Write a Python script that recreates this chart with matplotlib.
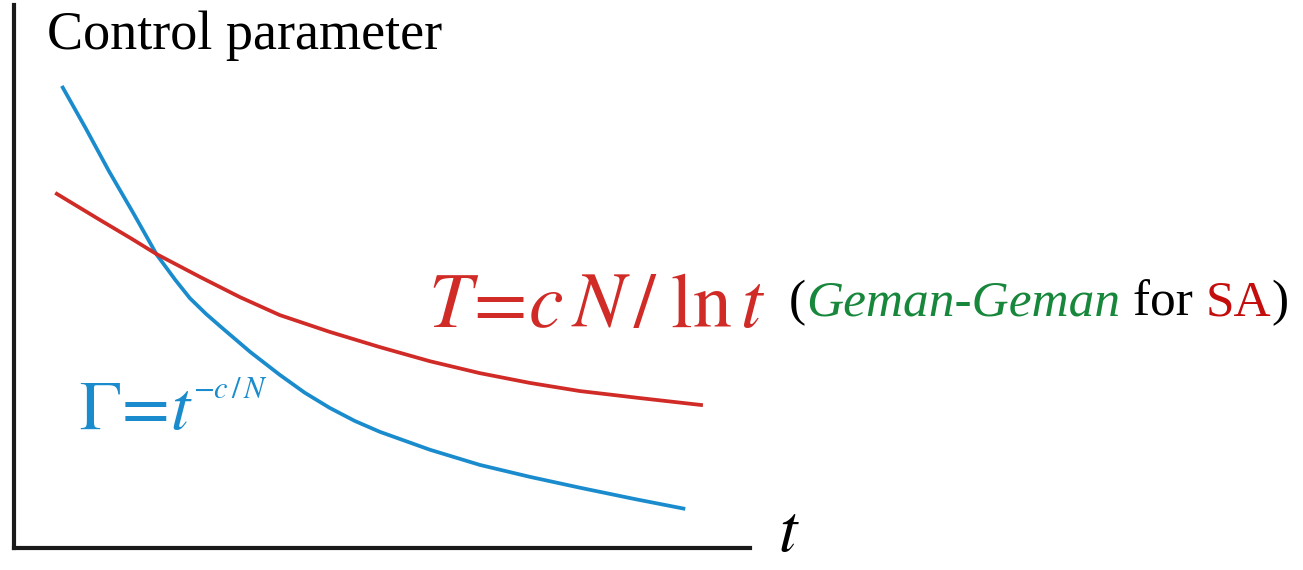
import matplotlib.pyplot as plt
import numpy as np

# curve samples (t, value) in axis units
blue_t = [0.65, 0.97, 1.29, 1.62, 1.94, 2.19, 2.39, 2.61, 2.83, 3.21, 3.61, 3.95, 4.29,
          4.63, 4.97, 5.65, 6.33, 7.01, 7.69, 8.44, 9.12]
blue_v = [8.51, 7.74, 6.94, 6.17, 5.40, 4.94, 4.60, 4.31, 4.05, 3.61, 3.19, 2.86, 2.58,
          2.34, 2.14, 1.81, 1.53, 1.31, 1.11, 0.90, 0.72]
red_t = [0.56, 1.17, 1.58, 1.94, 2.53, 3.07, 3.61, 4.29, 4.97, 5.65, 6.33, 7.01, 7.69, 8.51, 9.36]
red_v = [6.54, 6.04, 5.71, 5.41, 4.99, 4.62, 4.29, 3.98, 3.70, 3.44, 3.22, 3.04, 2.89, 2.76, 2.63]

blue = '#1a8ccd'
red = '#d02b27'

fig = plt.figure(figsize=(13.03, 5.70), dpi=100)
ax = fig.add_axes([14/1303, 22/570, 736/1303, 543/570])
ax.plot(blue_t, blue_v, color=blue, lw=2.7, solid_capstyle='butt', solid_joinstyle='round')
ax.plot(red_t, red_v, color=red, lw=2.7, solid_capstyle='butt', solid_joinstyle='round')
ax.set_xlim(0, 10)
ax.set_ylim(0, 10)
for s in ['top', 'right']:
    ax.spines[s].set_visible(False)
for s in ['left', 'bottom']:
    ax.spines[s].set_linewidth(3)
    ax.spines[s].set_color('#1a1a1a')
ax.set_xticks([])
ax.set_yticks([])

plt.rcParams['mathtext.fontset'] = 'stix'

fig.text(47/1303, 1 - 36/570, 'Control parameter', family='Liberation Serif',
         fontsize=39, va='center', ha='left')
fig.text(778/1303, 1 - 532/570, r'$t$', fontsize=48, va='center', ha='left')

g = fig.text(79/1303, 1 - 410/570, r'$\Gamma\!=\!t$', fontsize=50,
             color=blue, va='center', ha='left')
ax.annotate(r'$-c\,/\,N$', xy=(1, 1), xycoords=g, xytext=(0, 1),
            textcoords='offset points', va='top', ha='left', fontsize=22, color=blue)

fig.text(428/1303, 1 - 305/570, r'$T\!=\!c\,N\,/\;\mathrm{ln}\,t$', fontsize=56,
         color=red, va='center', ha='left')

p = fig.text(789/1303, 1 - 303/570, '(', family='Liberation Serif', fontsize=37,
             va='center', ha='left')
parts = [('Geman-Geman', '#17873b', 'italic'), (' for ', 'black', 'normal'),
         ('SA', '#c40d0d', 'normal'), (')', 'black', 'normal')]
for txt, col, sty in parts:
    p = ax.annotate(txt, xy=(1, 0), xycoords=p, va='bottom', ha='left',
                    family='Liberation Serif', fontsize=37, color=col, style=sty)

fig.savefig('out.png', dpi=100)
